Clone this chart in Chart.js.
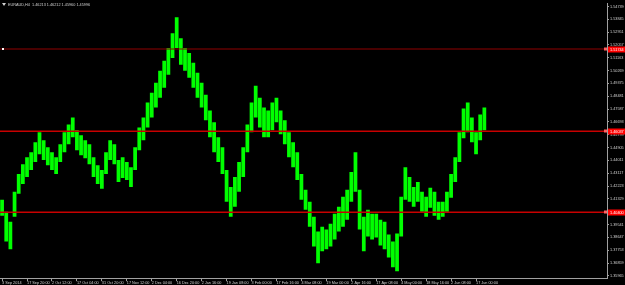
<!DOCTYPE html>
<html><head><meta charset="utf-8">
<script src="https://cdn.jsdelivr.net/npm/chart.js@4.4.1/dist/chart.umd.min.js"></script>
<style>html,body{margin:0;padding:0;background:#000;overflow:hidden}canvas{display:block}</style>
</head><body>
<canvas id="c" width="625" height="285"></canvas>
<script>
const symbolTitle = 'EURAUD,H4  1.46213 1.46212 1.45960 1.45996';
const dateLabels = ['3 Sep 2014','17 Sep 20:00','2 Oct 12:00','17 Oct 04:00','31 Oct 20:00','17 Nov 12:00','2 Dec 04:00','16 Dec 20:00','2 Jan 16:00','19 Jan 08:00','3 Feb 00:00','17 Feb 16:00','4 Mar 08:00','19 Mar 00:00','2 Apr 16:00','17 Apr 08:00','4 May 00:00','18 May 16:00','2 Jun 08:00','17 Jun 00:00'];
const highs = [1.4127,1.4043,1.3974,1.4182,1.4306,1.4375,1.4423,1.4458,1.4528,1.4597,
1.4542,1.4493,1.4458,1.4423,1.4514,1.4597,1.4652,1.4700,1.4611,1.4576,
1.4542,1.4514,1.4423,1.4368,1.4334,1.4458,1.4542,1.4514,1.4403,1.4423,
1.4389,1.4354,1.4493,1.4631,1.4700,1.4804,1.4873,1.4943,1.5026,1.5095,
1.5185,1.5288,1.5399,1.5253,1.5185,1.5150,1.5081,1.5012,1.4943,1.4859,
1.4749,1.4666,1.4562,1.4493,1.4334,1.4216,1.4285,1.4389,1.4493,1.4652,
1.4804,1.4922,1.4838,1.4769,1.4749,1.4804,1.4838,1.4749,1.4680,1.4597,
1.4528,1.4458,1.4306,1.4196,1.4113,1.4008,1.3905,1.3939,1.3919,1.3960,
1.4029,1.4078,1.4147,1.4196,1.4320,1.4458,1.4196,1.4008,1.4057,1.4029,
1.4029,1.3988,1.3974,1.3884,1.3836,1.3891,1.4147,1.4354,1.4285,1.4216,
1.4251,1.4182,1.4147,1.4210,1.4182,1.4113,1.4113,1.4182,1.4306,1.4423,
1.4597,1.4762,1.4804,1.4700,1.4597,1.4721,1.4769];
const lows = [1.4015,1.3836,1.3781,1.4008,1.4168,1.4237,1.4285,1.4334,1.4389,1.4444,
1.4403,1.4368,1.4334,1.4306,1.4389,1.4458,1.4514,1.4562,1.4472,1.4437,
1.4416,1.4375,1.4285,1.4237,1.4203,1.4306,1.4403,1.4375,1.4251,1.4278,
1.4265,1.4216,1.4334,1.4472,1.4542,1.4631,1.4700,1.4769,1.4838,1.4908,
1.4998,1.5115,1.5185,1.5067,1.5026,1.4977,1.4908,1.4838,1.4769,1.4680,
1.4562,1.4458,1.4389,1.4306,1.4113,1.4008,1.4078,1.4182,1.4285,1.4458,
1.4597,1.4700,1.4631,1.4562,1.4562,1.4611,1.4666,1.4583,1.4514,1.4423,
1.4354,1.4265,1.4127,1.4057,1.3939,1.3801,1.3684,1.3767,1.3781,1.3801,
1.3850,1.3905,1.3939,1.3988,1.4113,1.4182,1.3919,1.3767,1.3870,1.3850,
1.3863,1.3808,1.3781,1.3725,1.3656,1.3628,1.3870,1.4127,1.4113,1.4078,
1.4113,1.4043,1.4008,1.4071,1.4015,1.3988,1.4008,1.4043,1.4140,1.4251,
1.4389,1.4555,1.4597,1.4528,1.4444,1.4542,1.4611];
const priceTicks = [1.54739,1.53845,1.52951,1.52057,1.51163,1.50269,1.49375,1.48481,1.47587,1.46693,1.45799,1.44905,1.44011,1.43117,1.42223,1.41329,1.39541,1.38647,1.37753,1.36859,1.35965];
const levels = [1.51744, 1.46037, 1.40400];
const levelColors = ['#900000', '#c80000', '#c80000'];
const yMin = 1.3580, yMax = 1.5496;
const SLOTS = 146, LABEL_STEP = 6;
const FONT_FAMILY = '"Liberation Sans", Arial, sans-serif';
const FS = 3.8;
const TXT = '#d0d0d0';
const AXIS = '#a0a0a0';
const GREEN = '#00ff00';

const cats = Array.from({length: SLOTS}, (_, i) =>
  (i % LABEL_STEP === 0 && i / LABEL_STEP < dateLabels.length) ? dateLabels[i / LABEL_STEP] : '');
const ranges = cats.map((_, i) => i < highs.length ? [lows[i], highs[i]] : null);

const overlay = {
  id: 'overlay',
  afterDatasetsDraw(chart) {
    const {ctx, chartArea: a, scales: {y}} = chart;
    ctx.save();
    levels.forEach((v, k) => {
      const py = Math.round(y.getPixelForValue(v));
      ctx.fillStyle = levelColors[k];
      ctx.fillRect(a.left, py - 0.5, a.right - a.left, k === 0 ? 1 : 1.5);
      ctx.fillStyle = '#ff6060';
      ctx.fillRect(a.right - 3, py - 1.5, 3, 3);
    });
    const py0 = Math.round(y.getPixelForValue(levels[0]));
    ctx.fillStyle = '#ffffff';
    ctx.fillRect(a.left + 2, py0 - 1, 2, 2);
    ctx.restore();
  },
  afterDraw(chart) {
    const {ctx, chartArea: a, scales: {y}} = chart;
    ctx.save();
    ctx.font = FS + 'px ' + FONT_FAMILY;
    ctx.textBaseline = 'middle';
    levels.forEach(v => {
      const py = Math.round(y.getPixelForValue(v)) + 0.5;
      ctx.fillStyle = '#ff0000';
      ctx.fillRect(a.right + 1, py - 3, 625 - a.right - 1, 6);
      ctx.fillStyle = '#ffffff';
      ctx.textAlign = 'left';
      ctx.fillText(v.toFixed(5), a.right + 3, py + 0.3);
    });
    ctx.fillStyle = TXT;
    ctx.fillText(symbolTitle, 8, 5);
    ctx.beginPath(); ctx.moveTo(2, 3); ctx.lineTo(6, 3); ctx.lineTo(4, 6); ctx.closePath(); ctx.fill();
    ctx.restore();
  }
};

new Chart(document.getElementById('c'), {
  type: 'bar',
  data: { labels: cats, datasets: [
    { data: ranges, backgroundColor: GREEN, borderWidth: 0, barPercentage: 0.9, categoryPercentage: 1 }
  ] },
  options: {
    responsive: false, animation: false, devicePixelRatio: 1,
    layout: { padding: 0 },
    plugins: { legend: { display: false }, tooltip: { enabled: false } },
    scales: {
      x: {
        grid: { display: true, drawOnChartArea: false, offset: false, tickLength: 3,
          color: c => cats[c.index] ? AXIS : 'rgba(0,0,0,0)' },
        border: { display: true, color: AXIS },
        ticks: { autoSkip: false, maxRotation: 0, minRotation: 0, align: 'start', padding: 0,
          color: TXT, font: { size: FS, family: FONT_FAMILY, lineHeight: 1 },
          callback: (v, i) => cats[i] }
      },
      y: {
        position: 'right', min: yMin, max: yMax,
        afterBuildTicks: s => { s.ticks = priceTicks.map(v => ({ value: v })); },
        afterFit: s => { s.width = 18; },
        grid: { display: true, drawOnChartArea: false, tickLength: 2, color: AXIS },
        border: { display: true, color: AXIS },
        ticks: { padding: 1, color: TXT, font: { size: FS, family: FONT_FAMILY },
          callback: v => Number(v).toFixed(5) }
      }
    }
  },
  plugins: [overlay]
});
</script>
</body></html>
